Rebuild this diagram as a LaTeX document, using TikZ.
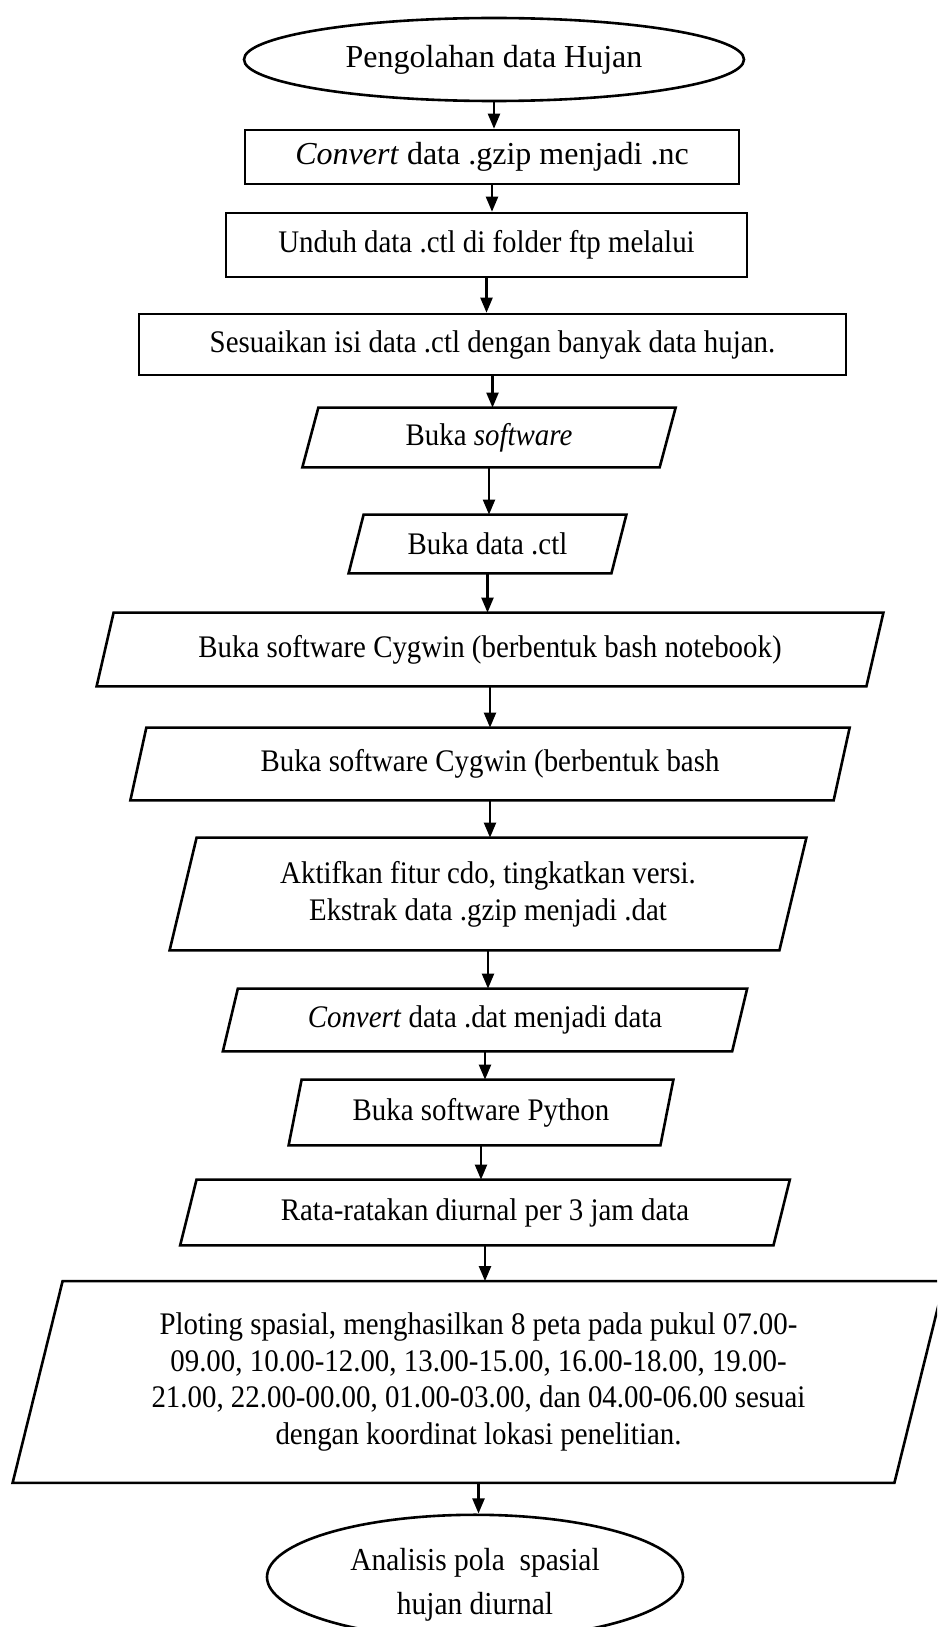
\documentclass[tikz,border=0pt]{standalone}
\usepackage{fontspec}
\setmainfont{Liberation Serif}
\newfontfamily\condserif[FakeStretch=0.92]{Liberation Serif}
\usetikzlibrary{shapes.geometric,arrows.meta}

% outline of a slanted (input/output) box around an undrawn rectangle node
\newcommand\slantoutline[2]{%
  \draw[outline] ([xshift=#2]#1.north west) -- ([xshift=#2]#1.north east)
    -- ([xshift=-#2]#1.south east) -- ([xshift=-#2]#1.south west) -- cycle;}

\begin{document}
\begin{tikzpicture}[x=0.5pt,y=-0.5pt,
  every node/.style={font=\fontsize{15.7pt}{18.4pt}\condserif, align=center, inner sep=0pt},
  wide/.style={font=\fontsize{16pt}{18.4pt}\selectfont},
  outline/.style={line width=1.3pt, black, line join=miter},
  term/.style={ellipse, draw, outline},
  stepbox/.style={rectangle, draw, outline},
  slantbox/.style={rectangle},
  arr/.style={line width=1.1pt, black, -{Triangle[length=7.5pt,width=6pt]}}]

\useasboundingbox (0,0) rectangle (937,1627);
\fill[white] (0,0) rectangle (937,1627);
\clip (0,0) rectangle (937,1627);

% terminals and process steps
\node[term, wide, minimum width=250pt, minimum height=41.5pt] (e1) at (494,59.5) {Pengolahan data Hujan};
\node[stepbox, wide, minimum width=247pt, minimum height=27pt] (b2) at (492,157) {\textit{Convert} data .gzip menjadi .nc};
\node[stepbox, minimum width=260.5pt, minimum height=32pt] (b3) at (486.5,245) {Unduh data .ctl di folder ftp melalui};
\node[stepbox, minimum width=353.5pt, minimum height=30.5pt] (b4) at (492.5,344.5) {Sesuaikan isi data .ctl dengan banyak data hujan.};

\node[slantbox, minimum width=178.25pt, minimum height=29.5pt] (p5) at (489,437.5) {Buka \textit{software}};
\node[slantbox, minimum width=131pt, minimum height=29pt] (p6) at (487.5,544) {Buka data .ctl};
\node[slantbox, minimum width=384.5pt, minimum height=36.5pt] (p7) at (490,649.5) {Buka software Cygwin (berbentuk bash notebook)};
\node[slantbox, minimum width=351.25pt, minimum height=36pt] (p8) at (490,764) {Buka software Cygwin (berbentuk bash};
\node[slantbox, minimum width=304.5pt, minimum height=56pt] (p9) at (488,894) {Aktifkan fitur cdo, tingkatkan versi.\\ Ekstrak data .gzip menjadi .dat};
\node[slantbox, minimum width=254.25pt, minimum height=31pt] (p10) at (485,1020) {\textit{Convert} data .dat menjadi data};
\node[slantbox, minimum width=185.5pt, minimum height=32.5pt] (p11) at (481,1112.5) {Buka software Python};
\node[slantbox, minimum width=296.25pt, minimum height=32.5pt] (p12) at (485,1212.5) {Rata-ratakan diurnal per 3 jam data};
\node[slantbox, minimum width=440.5pt, minimum height=100.5pt] (p13) at (478.5,1382) {Ploting spasial, menghasilkan 8 peta pada pukul 07.00-\\09.00, 10.00-12.00, 13.00-15.00, 16.00-18.00, 19.00-\\21.00, 22.00-00.00, 01.00-03.00, dan 04.00-06.00 sesuai\\dengan koordinat lokasi penelitian.};
\node[term, minimum width=208pt, minimum height=62pt, font=\fontsize{16pt}{22pt}\condserif] (e14) at (475,1577)
  {\raisebox{-3.5pt}[\height][\depth]{\begin{tabular}{@{}c@{}}Analisis pola~ spasial\\hujan diurnal\end{tabular}}};

\slantoutline{p5}{4pt}
\slantoutline{p6}{3.75pt}
\slantoutline{p7}{4.25pt}
\slantoutline{p8}{4pt}
\slantoutline{p9}{6.75pt}
\slantoutline{p10}{3.75pt}
\slantoutline{p11}{3.25pt}
\slantoutline{p12}{4.1pt}
\slantoutline{p13}{12.5pt}

% connectors
\foreach \a/\b in {e1/b2, b2/b3, b3/b4, b4/p5, p5/p6, p6/p7, p7/p8, p8/p9,
                   p9/p10, p10/p11, p11/p12, p12/p13, p13/e14}
  \draw[arr] (\a.south) -- (\a.south |- \b.north);
\end{tikzpicture}
\end{document}
